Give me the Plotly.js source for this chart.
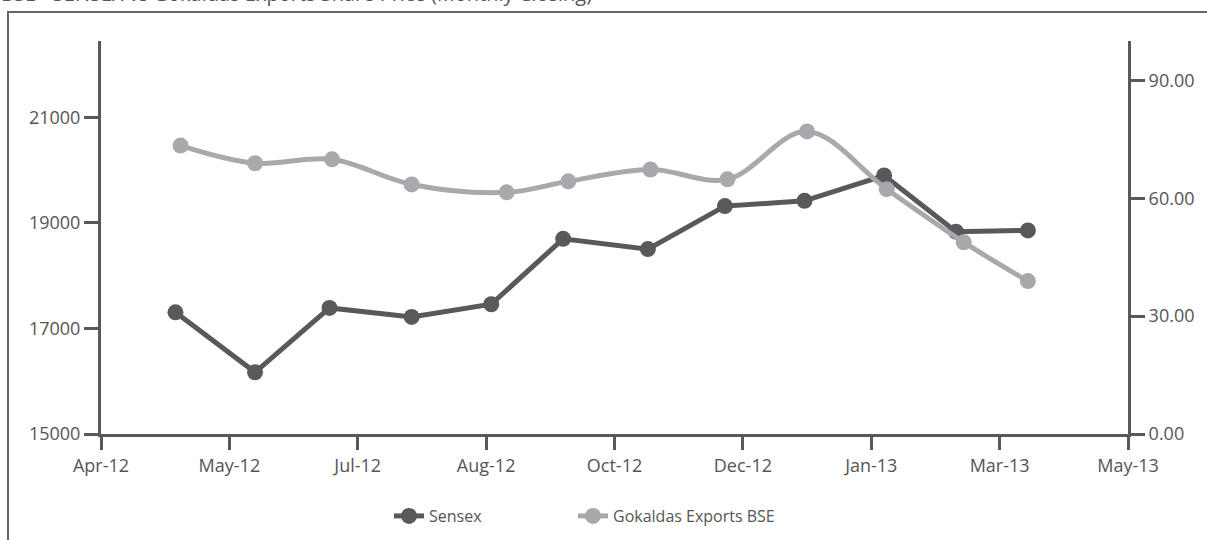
<!DOCTYPE html>
<html>
<head>
<meta charset="utf-8">
<script src="https://cdn.plot.ly/plotly-3.0.1.min.js"></script>
<style>
html,body{margin:0;padding:0;background:#fff;}
#chart{width:1207px;height:540px;}
</style>
</head>
<body>
<div id="chart"></div>
<script>
// Sensex monthly closing (left axis)
const sensexDates = ['2012-04-30','2012-05-31','2012-06-29','2012-07-31','2012-08-31','2012-09-28','2012-10-31','2012-11-30','2012-12-31','2013-01-31','2013-02-28','2013-03-28'];
const sensexValues = [17306, 16170, 17390, 17220, 17460, 18700, 18505, 19320, 19420, 19900, 18835, 18860];
// Gokaldas Exports BSE closing price (right axis)
const gokaldasDates = ['2012-05-02','2012-05-31','2012-06-30','2012-07-31','2012-09-06','2012-09-30','2012-11-01','2012-12-01','2013-01-01','2013-02-01','2013-03-03','2013-03-28'];
const gokaldasValues = [73.4, 68.9, 69.9, 63.5, 61.5, 64.3, 67.3, 64.8, 77.0, 62.3, 48.8, 38.9];
const seriesNames = ['Sensex', 'Gokaldas Exports BSE'];
const leftTicks = [15000, 17000, 19000, 21000];
const rightTicks = [0, 30, 60, 90];
const chartTitle = 'BSE - SENSEX vs Gokaldas Exports Share Price (Monthly Closing)';

const dark = '#58595b';
const light = '#a7a9ac';
const W = 1207, H = 540;
const m = {l: 101, r: 79, t: 41, b: 106};
const pw = W - m.l - m.r, ph = H - m.t - m.b;
const px = v => (v - m.l) / pw;
const py = v => (H - m.b - v) / ph;

const traces = [
  {
    x: sensexDates, y: sensexValues, name: seriesNames[0], type: 'scatter', mode: 'lines+markers',
    line: {color: dark, width: 5}, marker: {color: dark, size: 16}, yaxis: 'y', legend: 'legend'
  },
  {
    x: gokaldasDates, y: gokaldasValues, name: seriesNames[1], type: 'scatter', mode: 'lines+markers',
    line: {color: light, width: 5, shape: 'spline', smoothing: 1}, marker: {color: light, size: 16}, yaxis: 'y2', legend: 'legend2'
  }
];

const tickFont = {family: 'Open Sans, Noto Sans, sans-serif', size: 18, color: '#555'};
const legendFont = {family: 'Open Sans, Noto Sans, sans-serif', size: 16, color: '#555'};

const layout = {
  width: W, height: H,
  margin: m,
  paper_bgcolor: '#fff', plot_bgcolor: '#fff',
  showlegend: true,
  legend: {
    orientation: 'h', xref: 'container', yref: 'container', x: 389 / W, xanchor: 'left',
    y: 1 - 516 / H, yanchor: 'middle', font: legendFont, bgcolor: 'rgba(0,0,0,0)'
  },
  legend2: {
    orientation: 'h', xref: 'container', yref: 'container', x: 573 / W, xanchor: 'left',
    y: 1 - 516 / H, yanchor: 'middle', font: legendFont, bgcolor: 'rgba(0,0,0,0)'
  },
  xaxis: {
    type: 'date', range: ['2012-04-01', '2013-05-06'],
    tick0: '2012-04-01', dtick: 50 * 86400000, tickformat: '%b-%y',
    showgrid: false, zeroline: false, showline: true, linecolor: dark, linewidth: 3,
    ticks: 'outside', ticklen: 13, tickwidth: 3, tickcolor: dark, tickfont: tickFont
  },
  yaxis: {
    range: [15000, 22450], tickvals: leftTicks, ticktext: leftTicks.map(String),
    showgrid: false, zeroline: false, showline: true, linecolor: dark, linewidth: 3,
    ticks: 'outside', ticklen: 14, tickwidth: 3, tickcolor: dark, tickfont: tickFont
  },
  yaxis2: {
    overlaying: 'y', side: 'right', range: [0, 100], tickvals: rightTicks,
    ticktext: rightTicks.map(v => v.toFixed(2)),
    showgrid: false, zeroline: false, showline: true, linecolor: dark, linewidth: 3,
    ticks: 'outside', ticklen: 14, tickwidth: 3, tickcolor: dark, tickfont: tickFont
  },
  shapes: [
    {type: 'rect', xref: 'paper', yref: 'paper', x0: px(8), x1: px(1215), y0: py(548), y1: py(12),
     line: {color: '#666', width: 2}, fillcolor: 'rgba(0,0,0,0)', layer: 'below'}
  ],
  annotations: [
    {text: chartTitle, xref: 'paper', yref: 'paper', x: px(-1), y: py(-6), xanchor: 'left', yanchor: 'middle',
     showarrow: false, font: {family: 'Open Sans, Noto Sans, sans-serif', size: 20, color: '#555'}}
  ]
};

Plotly.newPlot('chart', traces, layout, {displayModeBar: false, staticPlot: true});
</script>
</body>
</html>
